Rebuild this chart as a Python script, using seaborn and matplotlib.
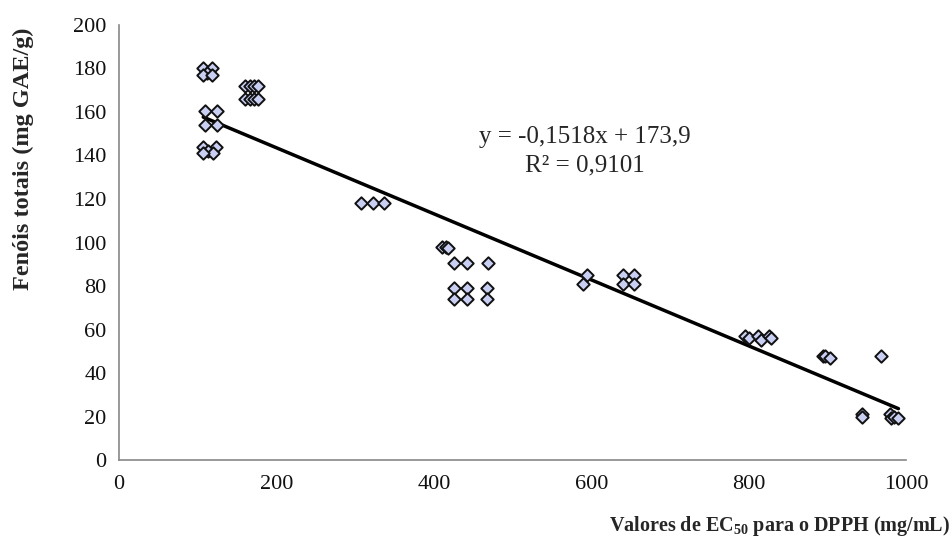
import numpy as np
import pandas as pd
import matplotlib
matplotlib.use("Agg")
import matplotlib.pyplot as plt
import seaborn as sns

# Data
ec50 = [107, 118, 112, 107, 118,
        109, 124, 109, 124,
        107, 123, 113, 119, 107,
        160, 166, 171, 176, 160, 166, 171, 176,
        307, 322, 337,
        410, 415, 418, 425, 442, 469, 425, 442, 468, 425, 442, 468,
        594, 589, 640, 654, 640, 654,
        795, 800, 811, 815, 825, 828, 894, 897, 903, 968,
        944, 944, 979, 981, 985, 990]
fenois = [180, 180, 178, 177, 177,
          160.5, 160.5, 154, 154,
          144, 144, 142, 141, 141,
          172, 172, 172, 172, 166, 166, 166, 166,
          118, 118, 118,
          98, 98, 97.5, 90.5, 90.5, 90.5, 79, 79, 79, 74, 74, 74,
          85, 81, 85, 85, 81, 81,
          57, 56, 57, 55, 57, 56, 48, 48, 47, 48,
          21, 20, 21, 19.5, 20, 19.5]
slope = -0.1518
intercept = 173.9
equation = "y = -0,1518x + 173,9"
r2_text = "R² = 0,9101"
x_ticks = [0, 200, 400, 600, 800, 1000]
y_ticks = list(range(0, 201, 20))

df = pd.DataFrame({"x": ec50, "y": fenois})
xfit = np.array([min(ec50), max(ec50)])
fit = pd.DataFrame({"x": xfit, "y": slope * xfit + intercept})

sns.set_style("white")
plt.rcParams["font.family"] = ["Liberation Serif", "DejaVu Serif"]
plt.rcParams["mathtext.fontset"] = "custom"
plt.rcParams["mathtext.rm"] = "Liberation Serif:bold"
plt.rcParams["mathtext.bf"] = "Liberation Serif:bold"
plt.rcParams["mathtext.it"] = "Liberation Serif:bold"

fig = plt.figure(figsize=(9.52, 5.41), dpi=100)
ax = fig.add_axes([0.125, 0.1497, 0.827, 0.8041])

sns.scatterplot(data=df, x="x", y="y", ax=ax, marker="D", s=40,
                color="#c8cff2", edgecolor="#111111", linewidth=1.4, zorder=3)
sns.lineplot(data=fit, x="x", y="y", ax=ax, color="black", linewidth=2.5, zorder=2)

ax.set_xlim(0, 1000)
ax.set_ylim(0, 200)
ax.set_xticks(x_ticks)
ax.set_yticks(y_ticks)
ax.tick_params(axis="both", labelsize=16, colors="#111111", length=5,
               width=1, direction="out", color="#888888")
ax.tick_params(axis="x", pad=6)
ax.tick_params(axis="y", pad=4)
for s in ["top", "right"]:
    ax.spines[s].set_visible(False)
for s in ["left", "bottom"]:
    ax.spines[s].set_color("#888888")
    ax.spines[s].set_linewidth(1.2)

ax.set_xlabel("")
ax.set_ylabel("")
fig.text(0.998, 0.027, r"Valores de EC$_{50}$ para o DPPH (mg/mL)",
         ha="right", va="center", fontsize=14.5, fontweight="bold")
fig.text(0.025, 0.707, "Fenóis totais (mg GAE/g)", rotation=90,
         ha="center", va="center", fontsize=17.5, fontweight="bold")

ax.text(0.592, 0.743, equation, transform=ax.transAxes, ha="center",
        va="center", fontsize=18)
ax.text(0.592, 0.678, r2_text, transform=ax.transAxes, ha="center",
        va="center", fontsize=18)

fig.savefig("out.png", dpi=100)
